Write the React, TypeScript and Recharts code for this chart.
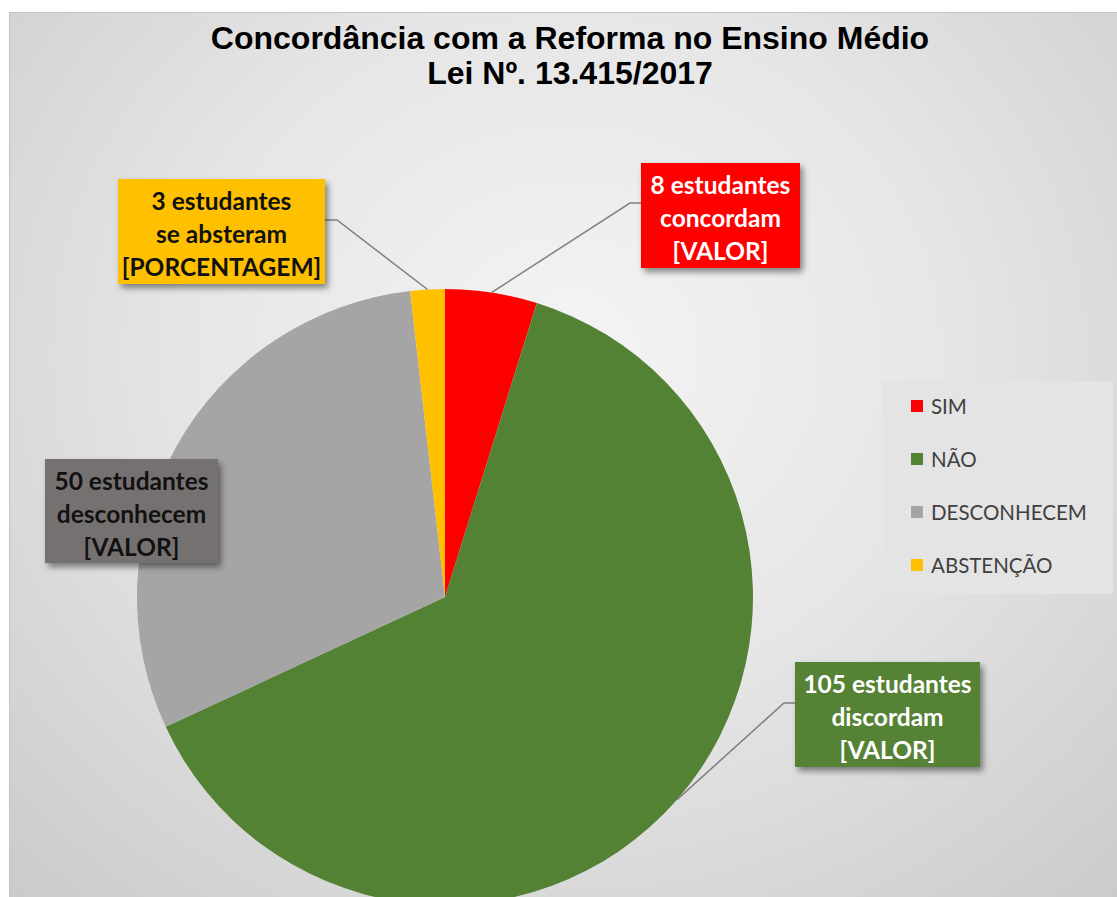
import React from 'react'
import { PieChart, Pie, Cell, Legend } from 'recharts'

const categories = ['SIM', 'NÃO', 'DESCONHECEM', 'ABSTENÇÃO']
const values = [8, 105, 50, 3]
const labelTexts = [
  ['8 estudantes', 'concordam', '[VALOR]'],
  ['105 estudantes', 'discordam', '[VALOR]'],
  ['50 estudantes', 'desconhecem', '[VALOR]'],
  ['3 estudantes', 'se absteram', '[PORCENTAGEM]'],
]

const sliceColors = ['#FF0000', '#548235', '#A5A5A5', '#FFC000']

// label boxes were dragged by hand in the original, offsets are relative to the pie centre
const labelBoxes = [
  { dx: 196, dy: -434, w: 159, h: 105, fill: '#FF0000', color: '#FFFFFF', side: 'left', lineY: 40 },
  { dx: 350, dy: 65, w: 185, h: 105, fill: '#548235', color: '#FFFFFF', side: 'left', lineY: 41 },
  { dx: -400, dy: -138, w: 173, h: 104, fill: '#767171', color: '#111111', side: 'none', lineY: 0 },
  { dx: -327, dy: -418, w: 207, h: 105, fill: '#FFC000', color: '#111111', side: 'right', lineY: 41 },
]

const data = categories.map((name, i) => ({ name, value: values[i] }))

const RAD = Math.PI / 180

const renderLabel = (props: any) => {
  const { cx, cy, midAngle, outerRadius, index } = props
  const box = labelBoxes[index]
  const bx = cx + box.dx
  const by = cy + box.dy
  const px = cx + outerRadius * Math.cos(-midAngle * RAD)
  const py = cy + outerRadius * Math.sin(-midAngle * RAD)
  const ly = by + box.lineY
  let line = null
  if (box.side === 'left') {
    line = <polyline points={`${px},${py} ${bx - 11},${ly} ${bx},${ly}`} fill="none" stroke="#7F7F7F" strokeWidth={1.5} />
  } else if (box.side === 'right') {
    line = <polyline points={`${px},${py} ${bx + box.w + 12},${ly} ${bx + box.w},${ly}`} fill="none" stroke="#7F7F7F" strokeWidth={1.5} />
  }
  const fid = `lblShadow${index}`
  return (
    <g key={`lbl-${index}`}>
      <defs>
        <filter id={fid} x="-20%" y="-20%" width="140%" height="150%">
          <feDropShadow dx={3} dy={4} stdDeviation={3} floodColor="#000" floodOpacity={0.45} />
        </filter>
      </defs>
      {line}
      <rect x={bx} y={by} width={box.w} height={box.h} fill={box.fill} filter={`url(#${fid})`} />
      {labelTexts[index].map((t, j) => (
        <text
          key={j}
          x={bx + box.w / 2}
          y={by + 21 + j * 33}
          textAnchor="middle"
          dominantBaseline="central"
          fill={box.color}
          style={{ fontFamily: 'Lato, "Open Sans", sans-serif', fontWeight: 700, fontSize: 24.5 }}
        >
          {t}
        </text>
      ))}
    </g>
  )
}

const renderLegend = () => (
  <div
    style={{
      width: 230,
      height: 213,
      background: '#E4E4E4',
      boxSizing: 'border-box',
      paddingTop: 14,
      paddingLeft: 28,
      fontFamily: 'Lato, "Open Sans", sans-serif',
      fontSize: 20.5,
      color: '#404040',
    }}
  >
    {categories.map((name, i) => (
      <div key={name} style={{ display: 'flex', alignItems: 'center', height: 22, marginBottom: 31 }}>
        <span style={{ width: 12, height: 12, background: sliceColors[i], display: 'inline-block', marginRight: 8 }} />
        <span>{name}</span>
      </div>
    ))}
  </div>
)

export default function App() {
  return (
    <div style={{ position: 'fixed', left: 0, top: 0, width: 1117, height: 897, overflow: 'hidden', background: '#fff' }}>
      <div
        style={{
          position: 'absolute',
          left: 9,
          top: 12,
          width: 1120,
          height: 900,
          border: '1px solid #C4C4C4',
          boxSizing: 'border-box',
          background: 'radial-gradient(ellipse 75% 85% at 50% 38%, #F4F4F4 0%, #E6E6E6 45%, #C9C9C9 100%)',
        }}
      >
        <div
          style={{
            position: 'absolute',
            left: 0,
            top: 8,
            width: 1120,
            textAlign: 'center',
            fontFamily: '"Liberation Sans", Arial, sans-serif',
            fontWeight: 700,
            fontSize: 32,
            lineHeight: '35px',
            color: '#000',
          }}
        >
          <div>Concordância com a Reforma no Ensino Médio</div>
          <div>Lei Nº. 13.415/2017</div>
        </div>
        <PieChart width={1110} height={890} style={{ position: 'absolute', left: 0, top: 0 }}>
          <Pie
            data={data}
            dataKey="value"
            nameKey="name"
            cx={430}
            cy={579}
            outerRadius={308}
            startAngle={90}
            endAngle={-270}
            stroke="none"
            label={renderLabel}
            labelLine={false}
            isAnimationActive={false}
          >
            {data.map((d, i) => (
              <Cell key={d.name} fill={sliceColors[i]} />
            ))}
          </Pie>
          <Legend
            layout="vertical"
            verticalAlign="top"
            align="right"
            wrapperStyle={{ left: 873, top: 368, width: 230 }}
            content={renderLegend}
          />
        </PieChart>
      </div>
    </div>
  )
}
